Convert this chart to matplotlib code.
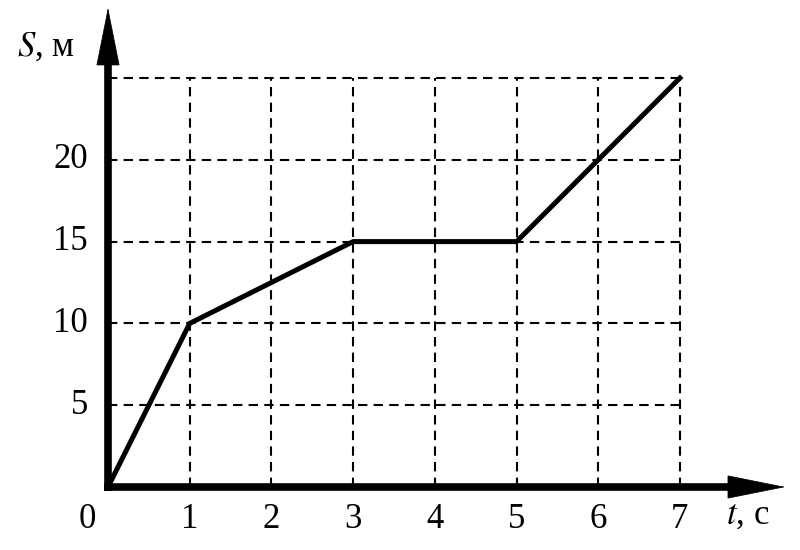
import matplotlib
matplotlib.use("Agg")
import matplotlib.pyplot as plt

plt.rcParams['font.family'] = ['Liberation Serif', 'DejaVu Serif']
plt.rcParams['mathtext.fontset'] = 'stix'

# path data: time (s) vs distance (m)
t_vals = [0, 1, 3, 5, 7]
s_vals = [0, 10, 15, 15, 25]
x_ticks = [1, 2, 3, 4, 5, 6, 7]
y_ticks = [5, 10, 15, 20]
grid_y = [5, 10, 15, 20, 25]

fig = plt.figure(figsize=(8, 5.5), dpi=100)
ax = fig.add_axes([0, 0, 1, 1])
ax.set_axis_off()
# pixel mapping: origin at (108, 487), 81.7 px per second, 16.36 px per metre
ax.set_xlim(-108 / 81.7, (800 - 108) / 81.7)
ax.set_ylim(-(550 - 487) / 16.36, 487 / 16.36)

# dashed grid
for x in x_ticks:
    ax.plot([x, x], [0, 25], color='black', lw=1.5, ls=(0, (4.5, 3)))
for y in grid_y:
    ax.plot([0, 7], [y, y], color='black', lw=1.5, ls=(0, (4.5, 3)))

# axes with arrows
ax.plot([0, 0], [-0.25, 26], color='black', lw=5.5, solid_capstyle='butt')
ax.plot([-0.05, 7.8], [0, 0], color='black', lw=5.5, solid_capstyle='butt')
head = dict(arrowstyle='-|>,head_length=2.0,head_width=0.4', lw=0.5,
            color='black', shrinkA=0, shrinkB=0, mutation_scale=20)
ax.annotate('', xy=(0, 29.3), xytext=(0, 24), arrowprops=head)
ax.annotate('', xy=(8.29, 0), xytext=(7.3, 0), arrowprops=head)

# the path
ax.plot(t_vals, s_vals, color='black', lw=3.6, solid_joinstyle='miter')

# tick labels
fs = 25
ax.text(-0.257, -1.98, '0', fontsize=fs, ha='center', va='center')
for x in x_ticks:
    ax.text(x, -1.98, str(x), fontsize=fs, ha='center', va='center')
for y in y_ticks:
    ax.text(-0.245, y, str(y), fontsize=fs, ha='right', va='center')

ax.text(-0.76, 26.9, '$S$, м', fontsize=fs, ha='center', va='center')
ax.text(7.83, -1.75, '$t$, с', fontsize=fs, ha='center', va='center')

fig.savefig('out.png', dpi=100, facecolor='white')
